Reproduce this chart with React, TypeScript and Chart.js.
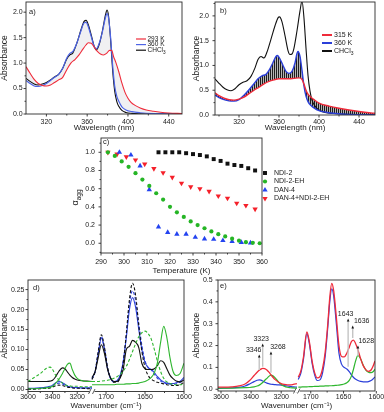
import React, { useEffect, useRef } from 'react';
import { Chart, registerables } from 'chart.js';
import { drawPoint } from 'chart.js/helpers';

Chart.register(...registerables);

const W = 384;
const H = 412;
const FONT = "'Liberation Sans', Arial, Helvetica, sans-serif";
Chart.defaults.font.family = FONT;
Chart.defaults.color = '#1a1a1a';

// ---------------- panel a ----------------
const aRedWl = [300,304,308,312,316,320,324,328,332,336,340,344,348,352,356,359,361,364,367,370,373,376,379,382,384,386,388,391,394,397,400,403,407,412,418,425,432,440,453];
const aRedAbs = [0.93,0.80,0.68,0.60,0.56,0.55,0.57,0.62,0.67,0.72,0.87,1.00,1.07,1.16,1.28,1.36,1.40,1.39,1.31,1.23,1.18,1.16,1.19,1.25,1.25,1.12,1.02,0.83,0.61,0.43,0.31,0.23,0.17,0.12,0.08,0.055,0.035,0.02,0.01];
const a360Wl = [300,304,308,312,316,320,324,328,332,336,340,343,346,350,354,357,359,361,364,367,369,372,375,378,379.5,381,383,385,387,389,391,394,398,404,412,425,440,453];
const aBlueAbs = [0.66,0.60,0.55,0.54,0.56,0.60,0.66,0.72,0.78,0.90,1.10,1.19,1.23,1.40,1.64,1.79,1.80,1.72,1.52,1.32,1.28,1.40,1.62,1.90,1.97,1.88,1.50,0.95,0.55,0.35,0.25,0.14,0.08,0.045,0.025,0.01,0.005,0.0];
const aBlackAbs = [0.70,0.64,0.59,0.57,0.59,0.62,0.67,0.73,0.78,0.90,1.08,1.16,1.20,1.40,1.66,1.82,1.84,1.76,1.55,1.32,1.26,1.38,1.64,1.95,2.04,1.92,1.45,0.85,0.45,0.25,0.15,0.07,0.03,0.012,0.005,0.0,0.0,0.0];
const aXTicks = [320, 360, 400, 440];
const aYTicks = [0, 0.5, 1.0, 1.5, 2.0];
const aLegMain = ['293 K', '360 K', 'CHCl'];
const aLegSub = ['', '', '3'];

// ---------------- panel b ----------------
const bBlackWl = [296,300,304,308,312,316,320,324,328,332,336,339,342,345,348,352,356,359,360.5,363,366,369,371,373,375,378,381,383,385,387,389,391,393,396,400,406,415,430,456];
const bBlackAbs = [0.73,0.64,0.56,0.51,0.49,0.53,0.61,0.66,0.69,0.78,0.95,1.12,1.18,1.15,1.27,1.53,1.80,1.96,1.98,1.88,1.60,1.30,1.22,1.23,1.35,1.70,2.10,2.30,1.95,1.35,0.80,0.48,0.30,0.18,0.10,0.05,0.03,0.015,0.01];
const bBlueWl = [296,300,305,310,315,320,325,330,335,339,343,347,350,354,357,358.5,361,364,367,370,373,376,378,379,381,383,385,387,389,392,396,400,406,414,425,440,456];
const bBlueAbs = [0.40,0.35,0.31,0.285,0.28,0.31,0.40,0.51,0.63,0.73,0.79,0.82,0.90,1.06,1.18,1.20,1.13,1.00,0.88,0.84,0.88,1.05,1.24,1.28,1.18,0.90,0.58,0.38,0.27,0.19,0.13,0.09,0.06,0.035,0.015,0.005,0.0];
const bRedWl = [296,300,305,310,315,320,325,330,335,340,345,350,355,360,365,370,375,380,383,385,387,389,392,395,400,410,420,430,440,450,456];
const bRedAbs = [0.45,0.39,0.34,0.31,0.30,0.32,0.36,0.43,0.50,0.56,0.63,0.68,0.71,0.73,0.73,0.73,0.74,0.75,0.72,0.62,0.50,0.42,0.36,0.31,0.24,0.18,0.135,0.10,0.07,0.045,0.035];
const bXTicks = [320, 360, 400, 440];
const bYTicks = [0, 0.5, 1.0, 1.5, 2.0];
const bLegMain = ['315 K', '360 K', 'CHCl'];
const bLegSub = ['', '', '3'];

// ---------------- panel c ----------------
const cNdi2T = [315,318,321,324,327,330,333,336,339,342,345,348,351,354,357];
const cNdi2 = [1.0,1.0,1.0,1.0,0.99,0.98,0.97,0.955,0.925,0.905,0.875,0.86,0.85,0.825,0.80];
const cNdi2EhT = [293,296,299,302,305,308,311,314,317,320,323,326,329,332,335,338,341,344,347,350,353,356,359];
const cNdi2Eh = [1.0,0.96,0.90,0.84,0.77,0.70,0.63,0.55,0.48,0.40,0.34,0.29,0.24,0.20,0.165,0.13,0.10,0.075,0.05,0.028,0.012,0.005,0.0];
const cDan4T = [298,303,307,311,315,319,323,327,331,335,339,343,347,351,355];
const cDan4 = [1.0,0.97,0.85,0.59,0.18,0.12,0.10,0.10,0.066,0.048,0.044,0.03,0.02,0.01,0.004];
const cMixT = [293,297,301,305,309,313,317,321,325,329,333,337,341,345,349,353,357];
const cMix = [1.0,0.98,0.95,0.915,0.87,0.82,0.775,0.725,0.66,0.62,0.60,0.57,0.52,0.495,0.44,0.415,0.375];
const cXTicks = [290, 300, 310, 320, 330, 340, 350, 360];
const cYTicks = [0, 0.2, 0.4, 0.6, 0.8, 1.0];
const cNames = ['NDI-2', 'NDI-2-EH', 'DAN-4', 'DAN-4+NDI-2-EH'];

// ---------------- panel d ----------------
const dWnL = [3600,3550,3500,3450,3420,3400,3380,3350,3320,3300,3280,3260,3240,3220,3200,3160,3120,3080];
const dBlackL = [0.020,0.020,0.020,0.020,0.021,0.023,0.030,0.045,0.054,0.052,0.044,0.036,0.030,0.026,0.024,0.022,0.021,0.020];
const dBlackDashL = [0.001,0.001,0.002,0.003,0.004,0.006,0.009,0.011,0.010,0.008,0.006,0.005,0.004,0.003,0.003,0.003,0.002,0.002];
const dBlueL = [0.003,0.003,0.004,0.006,0.008,0.011,0.016,0.020,0.017,0.013,0.009,0.007,0.006,0.005,0.005,0.004,0.004,0.004];
const dBlueDashL = [0.002,0.002,0.003,0.004,0.006,0.009,0.013,0.016,0.014,0.011,0.008,0.006,0.005,0.004,0.004,0.003,0.003,0.003];
const dGreenL = [0.002,0.002,0.003,0.004,0.006,0.008,0.014,0.025,0.040,0.052,0.063,0.066,0.050,0.036,0.028,0.022,0.020,0.020];
const dGreenDashL = [0.020,0.030,0.040,0.053,0.056,0.050,0.038,0.024,0.016,0.012,0.010,0.009,0.008,0.008,0.008,0.007,0.007,0.007];
const dWnR = [1718,1714,1710,1706,1702,1698,1694,1690,1686,1682,1678,1674,1670,1666,1662,1658,1654,1650,1646,1642,1638,1634,1630,1626,1622,1618,1614,1610,1605,1600];
const dBlackR = [0.030,0.045,0.080,0.112,0.090,0.050,0.028,0.020,0.020,0.028,0.050,0.100,0.108,0.123,0.118,0.105,0.065,0.052,0.050,0.050,0.052,0.060,0.072,0.068,0.052,0.036,0.027,0.021,0.019,0.024];
const dBlackDashR = [0.025,0.045,0.095,0.137,0.105,0.055,0.028,0.018,0.018,0.030,0.065,0.140,0.225,0.266,0.235,0.160,0.095,0.055,0.035,0.026,0.021,0.018,0.016,0.014,0.012,0.011,0.010,0.010,0.012,0.018];
const dBlueR = [0.028,0.045,0.090,0.129,0.100,0.052,0.027,0.020,0.022,0.035,0.070,0.130,0.200,0.230,0.205,0.150,0.100,0.068,0.055,0.050,0.042,0.032,0.024,0.019,0.016,0.015,0.015,0.017,0.021,0.030];
const dBlueDashR = [0.026,0.045,0.092,0.133,0.102,0.053,0.027,0.019,0.020,0.032,0.068,0.135,0.215,0.247,0.222,0.165,0.110,0.072,0.055,0.049,0.038,0.028,0.021,0.017,0.014,0.013,0.013,0.014,0.018,0.024];
const dGreenR = [0.012,0.012,0.012,0.012,0.012,0.012,0.012,0.012,0.013,0.013,0.013,0.014,0.014,0.015,0.015,0.016,0.018,0.020,0.024,0.030,0.042,0.068,0.118,0.158,0.130,0.080,0.045,0.035,0.040,0.066];
const dGreenDashR = [0.020,0.020,0.020,0.021,0.022,0.023,0.025,0.028,0.032,0.038,0.046,0.058,0.075,0.095,0.115,0.132,0.142,0.146,0.140,0.126,0.100,0.070,0.045,0.028,0.019,0.015,0.013,0.012,0.012,0.013];
const dXTicks = [3600, 3400, 3200, 1700, 1650, 1600];
const dYTicks = [0, 0.05, 0.10, 0.15, 0.20, 0.25];

// ---------------- panel e ----------------
const eWnL = [3620,3580,3530,3480,3440,3410,3380,3360,3346,3335,3323,3310,3295,3280,3268,3255,3240,3220,3200,3180,3160,3140,3120,3095];
const eRedL = [0.010,0.010,0.011,0.015,0.024,0.040,0.063,0.078,0.087,0.092,0.096,0.094,0.088,0.077,0.066,0.055,0.044,0.033,0.026,0.022,0.020,0.020,0.022,0.026];
const eBlueL = [0.004,0.005,0.006,0.009,0.015,0.024,0.035,0.041,0.043,0.042,0.038,0.033,0.028,0.025,0.023,0.022,0.021,0.020,0.019,0.017,0.015,0.013,0.011,0.010];
const eGreenL = [0.005,0.005,0.005,0.006,0.007,0.008,0.011,0.015,0.019,0.024,0.031,0.040,0.050,0.060,0.065,0.062,0.052,0.035,0.022,0.014,0.009,0.007,0.006,0.005];
const eWnR = [1719,1715,1711,1706,1702,1698,1694,1690,1686,1682,1678,1674,1671,1668,1665,1661,1657,1653,1649,1645,1641,1638,1635,1632,1628,1624,1620,1616,1612,1608,1605,1602];
const eRedR = [0.055,0.085,0.150,0.262,0.215,0.130,0.075,0.052,0.058,0.095,0.170,0.300,0.420,0.485,0.450,0.330,0.200,0.150,0.148,0.165,0.195,0.218,0.225,0.212,0.180,0.140,0.108,0.090,0.082,0.088,0.105,0.130];
const eBlueR = [0.045,0.075,0.140,0.255,0.205,0.120,0.065,0.040,0.043,0.075,0.150,0.285,0.400,0.460,0.425,0.300,0.165,0.115,0.100,0.093,0.080,0.066,0.055,0.047,0.040,0.036,0.034,0.034,0.035,0.040,0.047,0.056];
const eGreenR = [0.010,0.010,0.011,0.011,0.012,0.012,0.013,0.013,0.014,0.014,0.015,0.015,0.016,0.016,0.017,0.018,0.019,0.021,0.024,0.030,0.042,0.060,0.090,0.125,0.155,0.140,0.110,0.088,0.078,0.076,0.080,0.092];
const eXTicks = [3600, 3400, 3200, 1700, 1650, 1600];
const eYTicks = [0, 0.1, 0.2, 0.3, 0.4, 0.5];
const eAnnoWn = [3346, 3323, 3268, 1643, 1636, 1628];
const eAnnoTip = [0.152, 0.203, 0.166, 0.317, 0.285, 0.193];
const eAnnoBase = [0.088, 0.103, 0.075, 0.103, 0.235, 0.152];
const eAnnoDx = [-5.5, -1.5, 7, -2.5, 9, 8.3];

// ---------------- colours ----------------
const RED = '#ef2b3a';
const BLUE = '#2b3fd9';
const BLUE_A = '#4d64e6';
const BLACK = '#111111';
const GREEN = '#2fb62f';
const TXT = '#1a1a1a';

// ---------------- helpers ----------------
type Box = { L: number; T: number; R: number; B: number };
interface Broken { left: [number, number]; right: [number, number]; frac: number }
const D_AXIS: Broken = { left: [3600, 3080], right: [1718, 1600], frac: 64 / 156 };
const E_AXIS: Broken = { left: [3620, 3095], right: [1721, 1602], frac: 79 / 157 };

function bx(b: Broken, w: number) {
  return w > 2400
    ? (b.frac * (b.left[0] - w)) / (b.left[0] - b.left[1])
    : b.frac + ((1 - b.frac) * (b.right[0] - w)) / (b.right[0] - b.right[1]);
}
const pts = (xs: number[], ys: number[]) => xs.map((x, i) => ({ x, y: ys[i] }));
function brokenPts(b: Broken, wl: number[], vl: number[], wr: number[], vr: number[]) {
  return [
    ...wl.map((w, i) => ({ x: bx(b, w), y: vl[i] as number | null })),
    { x: b.frac, y: null },
    ...wr.map((w, i) => ({ x: bx(b, w), y: vr[i] as number | null })),
  ];
}
function minorsOf(m: number[], lo: number, hi: number) {
  const out: number[] = [];
  for (let i = 0; i < m.length - 1; i++) out.push((m[i] + m[i + 1]) / 2);
  if (m.length > 1) {
    out.push(m[0] - (m[1] - m[0]) / 2);
    out.push(m[m.length - 1] + (m[m.length - 1] - m[m.length - 2]) / 2);
  }
  const a = Math.min(lo, hi);
  const b = Math.max(lo, hi);
  return out.filter((v) => v > a + 1e-9 && v < b - 1e-9);
}
function brokenMinors(b: Broken, ticks: number[]) {
  const l = ticks.filter((t) => t > 2400);
  const r = ticks.filter((t) => t <= 2400);
  return [...minorsOf(l, b.left[0], b.left[1]), ...minorsOf(r, b.right[0], b.right[1])].map((w) => bx(b, w));
}

function line(label: string, data: any[], color: string, width = 1, dash: number[] = [], extra: any = {}) {
  return {
    label, data, borderColor: color, backgroundColor: color, borderWidth: width, borderDash: dash,
    pointRadius: 0, fill: false, cubicInterpolationMode: 'monotone', spanGaps: false, ...extra,
  };
}

function textSub(ctx: CanvasRenderingContext2D, x: number, y: number, main: string, sub: string, size: number, align: 'left' | 'center' = 'left') {
  const mf = `${size}px ${FONT}`;
  const sf = `${(size * 0.72).toFixed(2)}px ${FONT}`;
  ctx.font = mf;
  const w1 = ctx.measureText(main).width;
  ctx.font = sf;
  const w2 = sub ? ctx.measureText(sub).width : 0;
  const x0 = align === 'center' ? x - (w1 + w2) / 2 : x;
  ctx.fillStyle = TXT;
  ctx.textAlign = 'left';
  ctx.textBaseline = 'middle';
  ctx.font = mf;
  ctx.fillText(main, x0, y);
  if (sub) {
    ctx.font = sf;
    ctx.fillText(sub, x0 + w1, y + size * 0.32);
  }
}

function drawFrame(c: any, xMinor: number[], yMinor: number[]) {
  const ctx: CanvasRenderingContext2D = c.ctx;
  const a = c.chartArea;
  const xs = c.scales.x;
  const ys = c.scales.y;
  ctx.save();
  ctx.strokeStyle = '#2a2a2a';
  ctx.lineWidth = 0.9;
  ctx.strokeRect(a.left, a.top, a.right - a.left, a.bottom - a.top);
  ctx.beginPath();
  xs.ticks.forEach((t: any) => { const p = xs.getPixelForValue(t.value); ctx.moveTo(p, a.bottom); ctx.lineTo(p, a.bottom + 2.5); });
  xMinor.forEach((v) => { const p = xs.getPixelForValue(v); ctx.moveTo(p, a.bottom); ctx.lineTo(p, a.bottom + 1.5); });
  ys.ticks.forEach((t: any) => { const p = ys.getPixelForValue(t.value); ctx.moveTo(a.left, p); ctx.lineTo(a.left - 2.5, p); });
  yMinor.forEach((v) => { const p = ys.getPixelForValue(v); ctx.moveTo(a.left, p); ctx.lineTo(a.left - 1.5, p); });
  ctx.stroke();
  ctx.restore();
}

function drawBreak(c: any, b: Broken) {
  const ctx: CanvasRenderingContext2D = c.ctx;
  const a = c.chartArea;
  const x = c.scales.x.getPixelForValue(b.frac);
  const y = a.bottom;
  ctx.save();
  ctx.fillStyle = '#fff';
  ctx.fillRect(x - 2.5, y - 1.5, 5, 3);
  ctx.strokeStyle = '#333';
  ctx.lineWidth = 0.8;
  ctx.beginPath();
  ctx.moveTo(x - 3.5, y + 2.5); ctx.lineTo(x - 1, y - 2.5);
  ctx.moveTo(x + 0.5, y + 2.5); ctx.lineTo(x + 3, y - 2.5);
  ctx.stroke();
  ctx.restore();
}

interface Spec {
  box: Box; yW: number; xH: number;
  xMin: number; xMax: number; yMin: number; yMax: number;
  xTicks: number[]; xLabels: string[]; yTicks: number[]; yLabels: string[];
  xTitle: string; yTitle: string | null; xPad: number; yPad: number;
}

function buildOptions(s: Spec) {
  return {
    responsive: false,
    maintainAspectRatio: false,
    animation: false,
    devicePixelRatio: 1,
    events: [],
    layout: { padding: { left: s.box.L - s.yW, top: s.box.T, right: W - s.box.R, bottom: H - s.box.B - s.xH } },
    plugins: { legend: { display: false }, tooltip: { enabled: false }, filler: { drawTime: 'beforeDatasetsDraw' } },
    scales: {
      x: {
        type: 'linear', position: 'bottom', min: s.xMin, max: s.xMax,
        grid: { display: false, drawTicks: false }, border: { display: false },
        afterBuildTicks: (sc: any) => { sc.ticks = s.xTicks.map((v) => ({ value: v })); },
        afterFit: (sc: any) => { sc.height = s.xH; sc.paddingLeft = 0; sc.paddingRight = 0; sc.paddingTop = 0; sc.paddingBottom = 0; },
        ticks: { autoSkip: false, maxRotation: 0, minRotation: 0, padding: s.xPad, font: { size: 7 }, color: TXT, callback: (_v: any, i: number) => s.xLabels[i] },
        title: { display: true, text: s.xTitle, font: { size: 8 }, color: TXT, padding: 0 },
      },
      y: {
        type: 'linear', position: 'left', min: s.yMin, max: s.yMax,
        grid: { display: false, drawTicks: false }, border: { display: false },
        afterBuildTicks: (sc: any) => { sc.ticks = s.yTicks.map((v) => ({ value: v })); },
        afterFit: (sc: any) => { sc.width = s.yW; sc.paddingLeft = 0; sc.paddingRight = 0; sc.paddingTop = 0; sc.paddingBottom = 0; },
        ticks: { autoSkip: false, padding: s.yPad, font: { size: 7 }, color: TXT, callback: (_v: any, i: number) => s.yLabels[i] },
        title: { display: !!s.yTitle, text: s.yTitle || '', font: { size: 8.5 }, color: TXT, padding: 0 },
      },
    },
  };
}

// ---------------- charts ----------------
function chartA(cv: HTMLCanvasElement) {
  const s: Spec = {
    box: { L: 26, T: 2, R: 182, B: 114 }, yW: 26, xH: 18.5,
    xMin: 300, xMax: 453, yMin: 0, yMax: 2.2,
    xTicks: aXTicks, xLabels: aXTicks.map(String), yTicks: aYTicks, yLabels: aYTicks.map((v) => v.toFixed(1)),
    xTitle: 'Wavelength (nm)', yTitle: 'Absorbance', xPad: 3.5, yPad: 3.3,
  };
  const colors = [RED, BLUE_A, BLACK];
  const datasets = [
    line('293 K', pts(aRedWl, aRedAbs), RED, 1.1, [], { fill: 1, backgroundColor: 'rgba(185,185,198,0.22)' }),
    line('360 K', pts(a360Wl, aBlueAbs), BLUE_A, 1.2),
    line('CHCl3', pts(a360Wl, aBlackAbs), BLACK, 1.1),
  ];
  return new Chart(cv, {
    type: 'line', data: { datasets } as any, options: buildOptions(s) as any,
    plugins: [{
      id: 'decoA',
      afterDraw: (c: any) => {
        drawFrame(c, minorsOf(aXTicks, 300, 453), minorsOf(aYTicks, 0, 2.2));
        const ctx = c.ctx; const a = c.chartArea;
        textSub(ctx, a.left + 3, a.top + 9.7, 'a)', '', 7.5);
        for (let i = 0; i < 3; i++) {
          const y = a.top + 37 + i * 5.6; const x = a.left + 110;
          ctx.strokeStyle = colors[i]; ctx.lineWidth = 1.2;
          ctx.beginPath(); ctx.moveTo(x, y); ctx.lineTo(x + 10, y); ctx.stroke();
          textSub(ctx, x + 11.5, y, aLegMain[i], aLegSub[i], 6.5);
        }
      },
    }],
  });
}

function chartB(cv: HTMLCanvasElement) {
  const s: Spec = {
    box: { L: 215, T: 2, R: 375, B: 115 }, yW: 23, xH: 17.5,
    xMin: 296, xMax: 456, yMin: 0, yMax: 2.28,
    xTicks: bXTicks, xLabels: bXTicks.map(String), yTicks: bYTicks, yLabels: bYTicks.map((v) => v.toFixed(1)),
    xTitle: 'Wavelength (nm)', yTitle: 'Absorbance', xPad: 2.5, yPad: 6,
  };
  const pc = document.createElement('canvas');
  pc.width = 2; pc.height = 2;
  const g = pc.getContext('2d')!;
  g.fillStyle = 'rgba(10,10,10,0.92)'; g.fillRect(0, 0, 1, 2);
  g.fillStyle = 'rgba(10,10,10,0.3)'; g.fillRect(1, 0, 1, 2);
  const pattern = cv.getContext('2d')!.createPattern(pc, 'repeat');
  const colors = [RED, BLUE, BLACK];
  const datasets = [
    line('315 K', pts(bRedWl, bRedAbs), RED, 1.4, [], { fill: 1, backgroundColor: pattern }),
    line('360 K', pts(bBlueWl, bBlueAbs), BLUE, 1.4),
    line('CHCl3', pts(bBlackWl, bBlackAbs), BLACK, 1.1),
  ];
  return new Chart(cv, {
    type: 'line', data: { datasets } as any, options: buildOptions(s) as any,
    plugins: [{
      id: 'decoB',
      afterDraw: (c: any) => {
        drawFrame(c, minorsOf(bXTicks, 296, 456), minorsOf(bYTicks, 0, 2.28));
        const ctx = c.ctx; const a = c.chartArea;
        textSub(ctx, a.left + 5, a.top + 8.7, 'b)', '', 7.5);
        for (let i = 0; i < 3; i++) {
          const y = a.top + 33 + i * 8; const x = a.left + 107;
          ctx.strokeStyle = colors[i]; ctx.lineWidth = 2;
          ctx.beginPath(); ctx.moveTo(x, y); ctx.lineTo(x + 10, y); ctx.stroke();
          textSub(ctx, x + 12, y, bLegMain[i], bLegSub[i], 7);
        }
      },
    }],
  });
}

function chartC(cv: HTMLCanvasElement) {
  const s: Spec = {
    box: { L: 101, T: 138, R: 262, B: 253 }, yW: 25, xH: 22.8,
    xMin: 290, xMax: 360, yMin: -0.107, yMax: 1.157,
    xTicks: cXTicks, xLabels: cXTicks.map(String), yTicks: cYTicks, yLabels: cYTicks.map((v) => v.toFixed(1)),
    xTitle: 'Temperature (K)', yTitle: null, xPad: 4.5, yPad: 6,
  };
  const cols = [BLACK, '#25b525', '#2343f0', '#f5202a'];
  const styles = ['rect', 'circle', 'triangle', 'triangle'];
  const rots = [0, 0, 0, 180];
  const radii = [2.8, 2.1, 3.1, 3.1];
  const series = [pts(cNdi2T, cNdi2), pts(cNdi2EhT, cNdi2Eh), pts(cDan4T, cDan4), pts(cMixT, cMix)];
  const datasets = series.map((d, i) => ({
    label: cNames[i], data: d, backgroundColor: cols[i], borderColor: cols[i], borderWidth: 0,
    pointStyle: styles[i], pointRotation: rots[i], pointRadius: radii[i], showLine: false,
  }));
  return new Chart(cv, {
    type: 'scatter', data: { datasets } as any, options: buildOptions(s) as any,
    plugins: [{
      id: 'decoC',
      afterDraw: (c: any) => {
        drawFrame(c, minorsOf(cXTicks, 290, 360), minorsOf(cYTicks, -0.107, 1.157));
        const ctx: CanvasRenderingContext2D = c.ctx; const a = c.chartArea;
        textSub(ctx, a.left + 2, a.top + 4, 'c)', '', 7.5);
        for (let i = 0; i < 4; i++) {
          const y = a.top + 35 + i * 8.5; const x = a.right + 3;
          ctx.save();
          ctx.fillStyle = cols[i]; ctx.strokeStyle = cols[i];
          drawPoint(ctx, { pointStyle: styles[i], rotation: rots[i], radius: radii[i], borderWidth: 0 } as any, x, y);
          ctx.restore();
          textSub(ctx, x + 9, y, cNames[i], '', 7);
        }
        ctx.save();
        ctx.translate(a.left - 25, (a.top + a.bottom) / 2 + 2);
        ctx.rotate(-Math.PI / 2);
        textSub(ctx, 0, 0, 'α', 'agg', 9, 'center');
        ctx.restore();
      },
    }],
  });
}

function chartD(cv: HTMLCanvasElement) {
  const b = D_AXIS;
  const s: Spec = {
    box: { L: 28, T: 280, R: 184, B: 391.5 }, yW: 28, xH: 19.3,
    xMin: 0, xMax: 1, yMin: -0.005, yMax: 0.274,
    xTicks: dXTicks.map((w) => bx(b, w)), xLabels: dXTicks.map(String),
    yTicks: dYTicks, yLabels: dYTicks.map((v) => v.toFixed(2)),
    xTitle: 'Wavenumber (cm⁻¹)', yTitle: 'Absorbance', xPad: 1.8, yPad: 3.5,
  };
  const datasets = [
    line('green', brokenPts(b, dWnL, dGreenL, dWnR, dGreenR), GREEN, 1.1),
    line('green dash', brokenPts(b, dWnL, dGreenDashL, dWnR, dGreenDashR), GREEN, 1.1, [3, 2]),
    line('black', brokenPts(b, dWnL, dBlackL, dWnR, dBlackR), BLACK, 1.1),
    line('black dash', brokenPts(b, dWnL, dBlackDashL, dWnR, dBlackDashR), BLACK, 1.1, [3, 2]),
    line('blue', brokenPts(b, dWnL, dBlueL, dWnR, dBlueR), BLUE, 1.1),
    line('blue dash', brokenPts(b, dWnL, dBlueDashL, dWnR, dBlueDashR), BLUE, 1.1, [3, 2]),
  ];
  return new Chart(cv, {
    type: 'line', data: { datasets } as any, options: buildOptions(s) as any,
    plugins: [{
      id: 'decoD',
      afterDraw: (c: any) => {
        drawFrame(c, brokenMinors(b, dXTicks), minorsOf(dYTicks, -0.005, 0.274));
        drawBreak(c, b);
        const a = c.chartArea;
        textSub(c.ctx, a.left + 5, a.top + 8, 'd)', '', 7.5);
      },
    }],
  });
}

function chartE(cv: HTMLCanvasElement) {
  const b = E_AXIS;
  const s: Spec = {
    box: { L: 218, T: 280, R: 375, B: 391 }, yW: 26, xH: 19.8,
    xMin: 0, xMax: 1, yMin: -0.008, yMax: 0.5,
    xTicks: eXTicks.map((w) => bx(b, w)), xLabels: eXTicks.map(String),
    yTicks: eYTicks, yLabels: eYTicks.map((v) => v.toFixed(1)),
    xTitle: 'Wavenumber (cm⁻¹)', yTitle: 'Absorbance', xPad: 2.1, yPad: 5.3,
  };
  const datasets = [
    line('red', brokenPts(b, eWnL, eRedL, eWnR, eRedR), RED, 1.3),
    line('green', brokenPts(b, eWnL, eGreenL, eWnR, eGreenR), GREEN, 1.2),
    line('blue', brokenPts(b, eWnL, eBlueL, eWnR, eBlueR), BLUE, 1.2),
  ];
  return new Chart(cv, {
    type: 'line', data: { datasets } as any, options: buildOptions(s) as any,
    plugins: [{
      id: 'decoE',
      afterDraw: (c: any) => {
        drawFrame(c, brokenMinors(b, eXTicks), minorsOf(eYTicks, -0.008, 0.5));
        drawBreak(c, b);
        const ctx: CanvasRenderingContext2D = c.ctx; const a = c.chartArea;
        textSub(ctx, a.left + 2, a.top + 6, 'e)', '', 7.5);
        const xs = c.scales.x; const ys = c.scales.y;
        eAnnoWn.forEach((w, i) => {
          const x = xs.getPixelForValue(bx(b, w));
          const yt = ys.getPixelForValue(eAnnoTip[i]);
          const yb = ys.getPixelForValue(eAnnoBase[i]);
          ctx.save();
          ctx.strokeStyle = '#c4c4c4'; ctx.lineWidth = 1.4;
          ctx.beginPath(); ctx.moveTo(x, yb); ctx.lineTo(x, yt + 1); ctx.stroke();
          ctx.fillStyle = '#111';
          ctx.beginPath(); ctx.moveTo(x, yt - 1.5); ctx.lineTo(x - 1.3, yt + 1.5); ctx.lineTo(x + 1.3, yt + 1.5); ctx.closePath(); ctx.fill();
          ctx.restore();
          textSub(ctx, x + eAnnoDx[i], yt - 6, String(w), '', 7, 'center');
        });
      },
    }],
  });
}

export default function App() {
  const r0 = useRef<HTMLCanvasElement>(null);
  const r1 = useRef<HTMLCanvasElement>(null);
  const r2 = useRef<HTMLCanvasElement>(null);
  const r3 = useRef<HTMLCanvasElement>(null);
  const r4 = useRef<HTMLCanvasElement>(null);
  const refs = [r0, r1, r2, r3, r4];
  useEffect(() => {
    const makers = [chartA, chartB, chartC, chartD, chartE];
    const charts = makers.map((m, i) => m(refs[i].current as HTMLCanvasElement));
    return () => charts.forEach((ch) => ch.destroy());
  }, []);
  return (
    <div style={{ position: 'absolute', left: 0, top: 0, width: W, height: H, background: '#fff', overflow: 'hidden' }}>
      {refs.map((r, i) => (
        <canvas key={i} ref={r} width={W} height={H} style={{ position: 'absolute', left: 0, top: 0, width: W, height: H }} />
      ))}
    </div>
  );
}
